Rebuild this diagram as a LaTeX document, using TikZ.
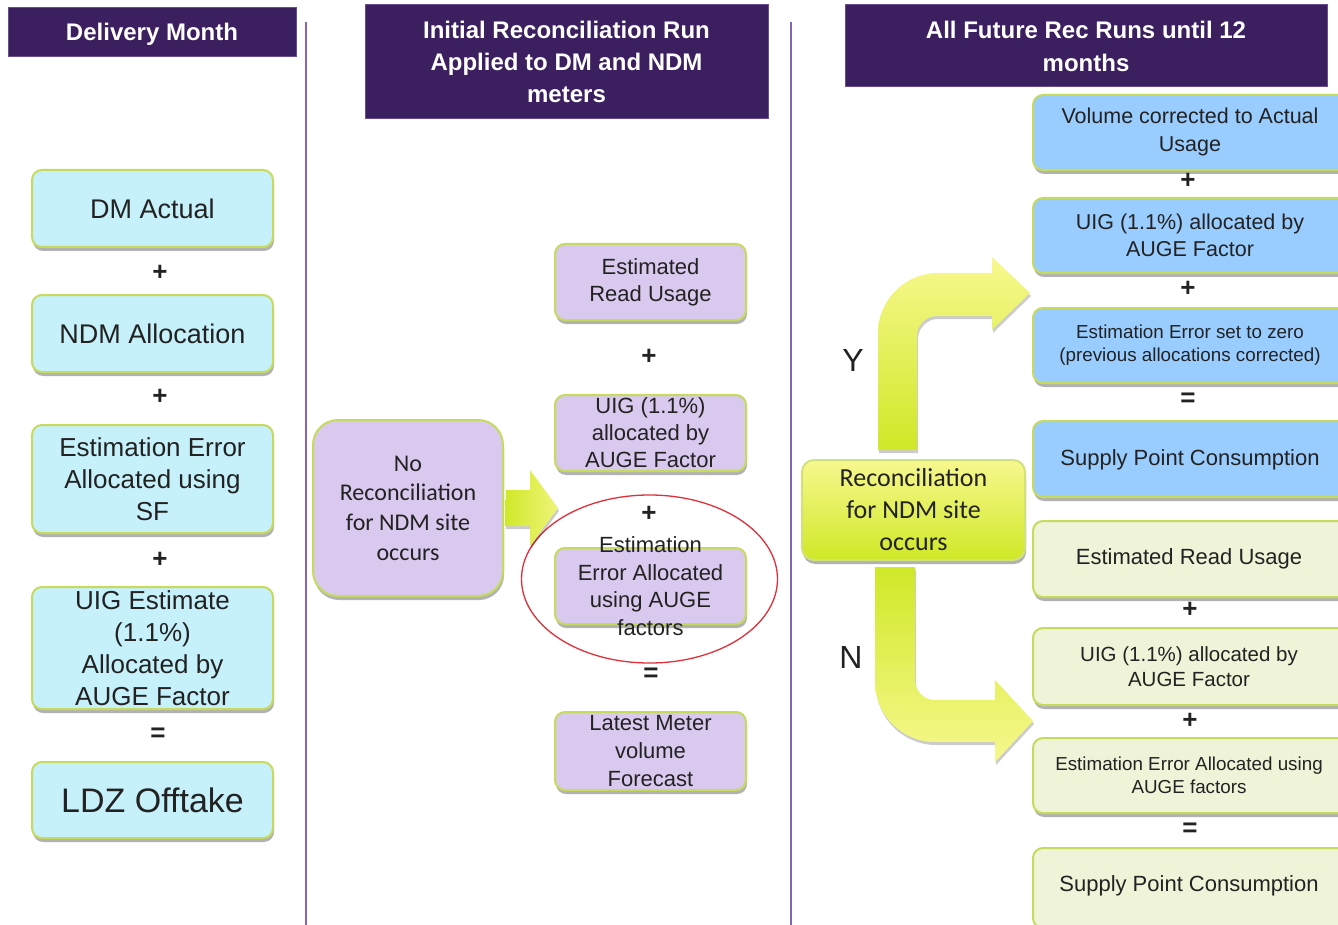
\documentclass[tikz,border=0pt]{standalone}
\usepackage{fontspec}
\setmainfont{Liberation Sans}
\newfontfamily\carlito{Carlito}
\usetikzlibrary{shadows}
\definecolor{hdr}{HTML}{3B1F5E}
\definecolor{hdredge}{HTML}{6A4D90}
\definecolor{vline}{HTML}{8566B5}
\definecolor{bord}{HTML}{C6DB5C}
\definecolor{cyanbox}{HTML}{C6F1FB}
\definecolor{lilac}{HTML}{D9C9EE}
\definecolor{bluebox}{HTML}{99CCFF}
\definecolor{palebox}{HTML}{EFF3D8}
\definecolor{ink}{HTML}{222222}
\definecolor{ygdark}{HTML}{CFE827}
\definecolor{yglight}{HTML}{F7F88E}
\definecolor{redring}{HTML}{E0303A}
\newcommand{\fsz}[2]{\fontsize{#1pt}{#2pt}\selectfont}
\begin{document}
\begin{tikzpicture}[x=1pt,y=-1pt,
  hdrbox/.style={fill=hdr,draw=hdredge,line width=1pt},
  hdrtxt/.style={text=white,font=\bfseries\fsz{24}{32},align=center,inner sep=0pt},
  box/.style={draw=bord,line width=2pt,rounded corners=10pt,inner sep=0pt,
    drop shadow={shadow xshift=1pt,shadow yshift=-4pt,opacity=0.3,fill=black}},
  txt/.style={text=ink,align=center,inner sep=0pt},
  sign/.style={text=ink,inner sep=0pt,font=\bfseries\fsz{26}{26}},
  bigarrow/.style={draw=none,drop shadow={shadow xshift=1pt,shadow yshift=-3pt,opacity=0.2,fill=black}}
]
\useasboundingbox (0,0) rectangle (1338,925);
\clip (0,0) rectangle (1338,925);
\fill[white] (0,0) rectangle (1338,925);

% headers
\node[hdrbox,minimum width=288,minimum height=49] (h1) at (152,32.5) {};
\node[hdrtxt] at (152,34) {Delivery Month};
\node[hdrbox,minimum width=403,minimum height=114] (h2) at (566.5,62) {};
\node[hdrtxt] at (h2) {Initial Reconciliation Run\\Applied to DM and NDM\\meters};
\node[hdrbox,minimum width=482,minimum height=82] (h3) at (1086,46) {};
\node[hdrtxt,font=\bfseries\fsz{24}{33}] at (h3) {All Future Rec Runs until 12\\months};

% separators
\coordinate (v1t) at (306,22); \coordinate (v1b) at (306,925);
\coordinate (v2t) at (791,22); \coordinate (v2b) at (791,925);
\draw[vline,line width=2pt] (v1t) -- (v1b);
\draw[vline,line width=2pt] (v2t) -- (v2b);

% left column
\node[box,fill=cyanbox,minimum width=241,minimum height=77] (dm) at (152.5,208.5) {};
\node[txt,font=\fsz{27}{32}] at (dm) {DM Actual};
\node[sign] (p1) at (160,273) {+};
\node[box,fill=cyanbox,minimum width=241,minimum height=77] (ndm) at (152.5,333.5) {};
\node[txt,font=\fsz{27}{32}] at (ndm) {NDM Allocation};
\node[sign] (p2) at (160,397) {+};
\node[box,fill=cyanbox,minimum width=241,minimum height=108] (ee) at (152.5,479) {};
\node[txt,font=\fsz{26}{32}] at (ee) {Estimation Error\\Allocated using\\SF};
\node[sign] (p3) at (160,560) {+};
\node[box,fill=cyanbox,minimum width=241,minimum height=122] (uig) at (152.5,648) {};
\node[txt,font=\fsz{26}{32}] at (uig) {UIG Estimate\\(1.1\%)\\Allocated by\\AUGE Factor};
\node[sign] (e1) at (158,735) {=};
\node[box,fill=cyanbox,minimum width=241,minimum height=76] (ldz) at (152.5,800) {};
\node[txt,font=\fsz{34}{40}] at (ldz) {LDZ Offtake};

% middle column
\node[box,fill=lilac,rounded corners=25pt,minimum width=190,minimum height=176] (nr) at (408,508) {};
\node[txt,font=\carlito\fsz{24}{29.6}] at (nr) {No\\Reconciliation\\for NDM site\\occurs};
\node[box,fill=lilac,minimum width=191,minimum height=76] (eru) at (650.5,282) {};
\node[txt,font=\fsz{22}{27}] at (eru) {Estimated\\Read Usage};
\node[sign] (p4) at (649,357) {+};
\node[box,fill=lilac,minimum width=191,minimum height=76] (uigm) at (650.5,433) {};
\node[txt,font=\fsz{22}{27}] at (uigm) {UIG (1.1\%)\\allocated by\\AUGE Factor};
\node[sign] (p5) at (649,514) {+};
\node[box,fill=lilac,minimum width=191,minimum height=76] (eem) at (650.5,586) {};
\node[txt,font=\fsz{22}{27.7}] at (eem) {Estimation\\Error Allocated\\using AUGE\\factors};
\draw[redring,line width=1.3pt] (eem) ++(-1,-7) ellipse [x radius=128,y radius=84];
\node[sign] (e2) at (651,675) {=};
\node[box,fill=lilac,minimum width=191,minimum height=78] (lmv) at (650.5,751) {};
\node[txt,font=\fsz{22}{28}] at (lmv) {Latest Meter\\volume\\Forecast};

% middle arrow
\path[bigarrow,left color=ygdark,right color=yglight!80!ygdark]
  (nr.east) ++(2,-18) coordinate (ma1) -- (530,490) -- (530,470) -- (558,508) -- (530,546) -- (530,526) -- (505,526) -- cycle;

% right column: decision
\node[box,draw=bord!80!white,rounded corners=12pt,top color=yglight,bottom color=ygdark,minimum width=223,minimum height=100] (rec) at (913.5,510) {};
\node[txt,font=\carlito\fsz{26}{32}] at (rec) {Reconciliation\\for NDM site\\occurs};
\node[txt,font=\fsz{32}{32}] (ylab) at (853,360) {Y};
\node[txt,font=\fsz{32}{32}] (nlab) at (851,657) {N};

% Y arrow
\path[bigarrow,top color=yglight,bottom color=ygdark]
  (878,450) -- (878,333) .. controls (878,300) and (905,273) .. (938,273)
  -- (992,273) -- (992,257) -- (1030,293) -- (992,330) -- (992,316)
  -- (937,316) .. controls (926,316) and (917,325) .. (917,336) -- (917,450) -- cycle;
% N arrow
\path[bigarrow,top color=ygdark,bottom color=yglight]
  (875,567) -- (875,682) .. controls (875,715) and (902,742) .. (935,742)
  -- (995,742) -- (995,762) -- (1033,721) -- (995,680) -- (995,700)
  -- (935,700) .. controls (924,700) and (915,691) .. (915,680) -- (915,567) -- cycle;

% right column: Y branch
\node[box,fill=bluebox,minimum width=316,minimum height=75] (vol) at (1191,132.5) {};
\node[txt,font=\fsz{21.5}{28}] at (1190,132) {Volume corrected to Actual\\Usage};
\node[sign] (p6) at (1188,181) {+};
\node[box,fill=bluebox,minimum width=316,minimum height=75] (uigb) at (1191,235.5) {};
\node[txt,font=\fsz{21.5}{27}] at (1190,235.5) {UIG (1.1\%) allocated by\\AUGE Factor};
\node[sign] (p7) at (1188,289) {+};
\node[box,fill=bluebox,minimum width=316,minimum height=75] (eez) at (1191,345.5) {};
\node[txt,font=\fsz{18.8}{23}] at (1190,345.5) {Estimation Error set to zero\\(previous allocations corrected)};
\node[sign] (e3) at (1188,400) {=};
\node[box,fill=bluebox,minimum width=316,minimum height=76] (spc1) at (1191,459) {};
\node[txt,font=\fsz{22}{27}] at (1190,460) {Supply Point Consumption};

% right column: N branch
\node[box,fill=palebox,minimum width=316,minimum height=76] (erur) at (1191,559) {};
\node[txt,font=\fsz{22}{27}] at (1189,559) {Estimated Read Usage};
\node[sign] (p8) at (1190,610) {+};
\node[box,fill=palebox,minimum width=316,minimum height=77] (uigr) at (1191,666.5) {};
\node[txt,font=\fsz{20.5}{25}] at (1189,666.5) {UIG (1.1\%) allocated by\\AUGE Factor};
\node[sign] (p9) at (1190,721) {+};
\node[box,fill=palebox,minimum width=316,minimum height=75] (eea) at (1191,775.5) {};
\node[txt,font=\fsz{18.8}{23}] at (1189,775) {Estimation Error Allocated using\\AUGE factors};
\node[sign] (e4) at (1190,830) {=};
\node[box,fill=palebox,minimum width=316,minimum height=80] (spc2) at (1191,888) {};
\node[txt,font=\fsz{22}{27}] at (1189,886) {Supply Point Consumption};
\end{tikzpicture}
\end{document}
